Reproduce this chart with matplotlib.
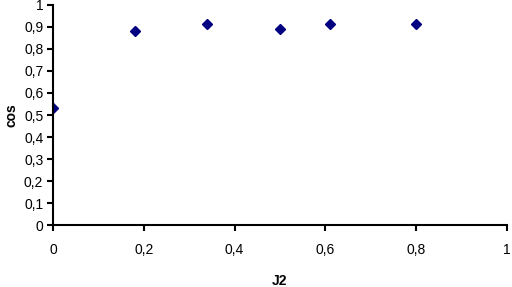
import matplotlib
matplotlib.use("Agg")
import matplotlib.pyplot as plt
from matplotlib.ticker import FuncFormatter

# data
j2 = [0.0, 0.18, 0.34, 0.50, 0.61, 0.80]
cos_vals = [0.53, 0.88, 0.915, 0.89, 0.915, 0.915]

x_ticks = [0, 0.2, 0.4, 0.6, 0.8, 1.0]
y_ticks = [i / 10 for i in range(11)]

plt.rcParams['font.family'] = ['Liberation Sans', 'DejaVu Sans']

fig = plt.figure(figsize=(5.12, 2.87), dpi=100)
ax = fig.add_axes([0.1035, 0.216, 0.8865, 0.7666])

ax.plot(j2, cos_vals, linestyle='none', marker='D', markersize=5,
        color='#000080', markeredgecolor='#000080')

ax.set_xlim(0, 1)
ax.set_ylim(0, 1)
ax.set_xticks(x_ticks)
ax.set_yticks(y_ticks)

comma = FuncFormatter(lambda v, p: f"{v:g}".replace('.', ','))
ax.xaxis.set_major_formatter(comma)
ax.yaxis.set_major_formatter(comma)

for side in ['top', 'right']:
    ax.spines[side].set_visible(False)
for side in ['left', 'bottom']:
    ax.spines[side].set_linewidth(1.5)
    ax.spines[side].set_clip_on(False)

ax.tick_params(axis='x', direction='out', length=4, width=1.5, pad=9, labelsize=10)
ax.tick_params(axis='y', direction='out', length=4, width=1.5, pad=3, labelsize=10)

ax.set_xlabel('J2', fontweight='bold', fontsize=10, labelpad=12)
ax.set_ylabel('cos', fontweight='bold', fontsize=10, labelpad=4)

fig.savefig('out.png', dpi=100)
